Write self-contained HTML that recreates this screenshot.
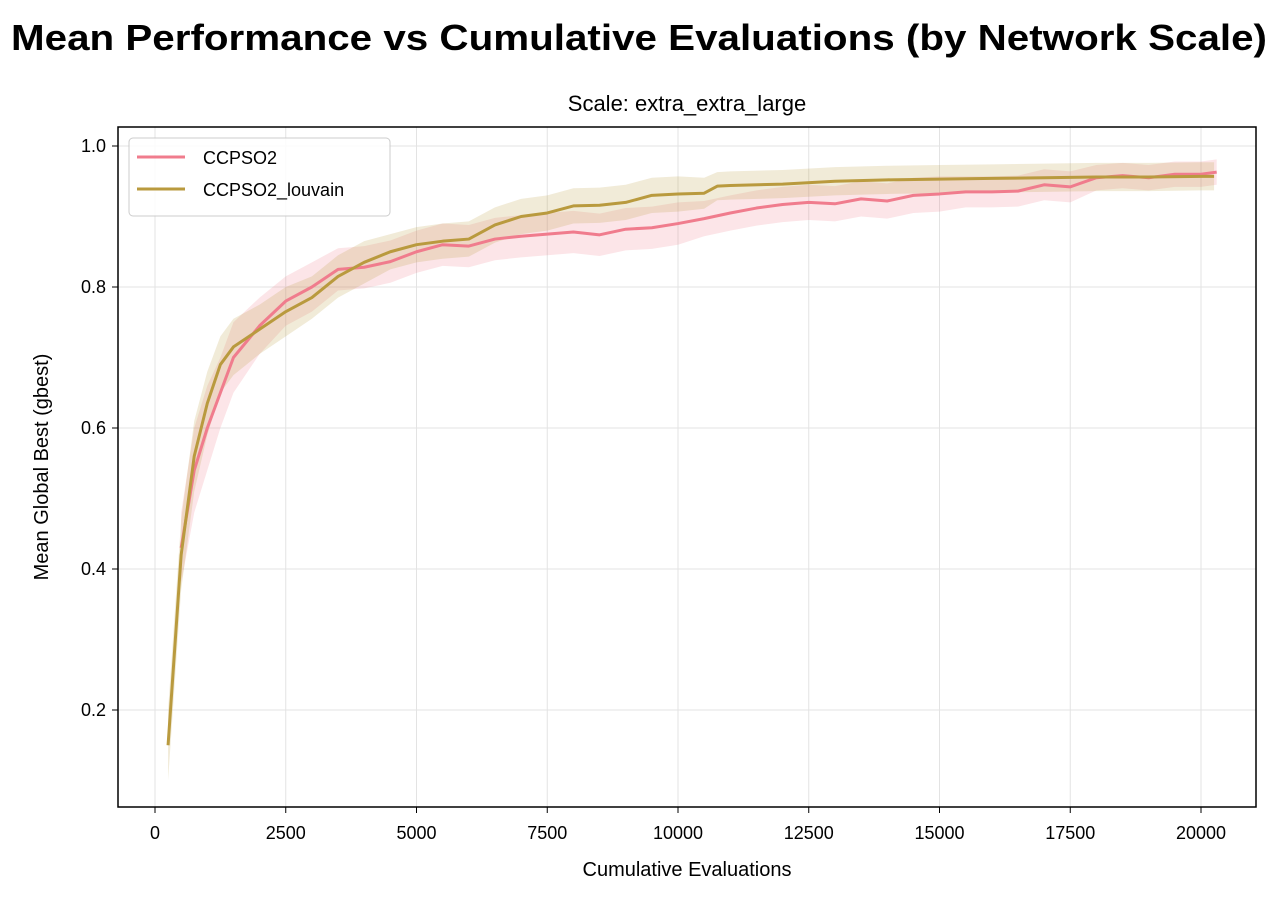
<!DOCTYPE html>
<html><head><meta charset="utf-8"><style>
body{margin:0;background:#fff;font-family:"Liberation Sans",Arial,sans-serif}
</style></head><body>
<svg id="c" width="1276" height="900" xmlns="http://www.w3.org/2000/svg">
<text x="639" y="50" text-anchor="middle" font-size="36" font-weight="bold" textLength="1256" lengthAdjust="spacingAndGlyphs">Mean Performance vs Cumulative Evaluations (by Network Scale)</text>
<text x="687" y="111" text-anchor="middle" font-size="22">Scale: extra_extra_large</text>
<g id="grid"></g><g id="bands"></g><g id="lines"></g><g id="ticks"></g>
<rect x="118" y="127" width="1138" height="680" fill="none" stroke="#000" stroke-width="1.5"/>
<text x="687" y="876" text-anchor="middle" font-size="20">Cumulative Evaluations</text>
<text transform="translate(48,467) rotate(-90)" text-anchor="middle" font-size="20">Mean Global Best (gbest)</text>
<g>
<rect x="129" y="138" width="261" height="78" rx="4" fill="#fff" fill-opacity="0.85" stroke="#ccc"/>
<line x1="137" y1="157" x2="185" y2="157" stroke="#f07c8d" stroke-width="3"/>
<text x="203" y="164" font-size="18">CCPSO2</text>
<line x1="137" y1="189" x2="185" y2="189" stroke="#b99a3e" stroke-width="3"/>
<text x="203" y="196" font-size="18">CCPSO2_louvain</text>
</g>
</svg>
<script>
const xTicks=[0,2500,5000,7500,10000,12500,15000,17500,20000];
const yTicks=[0.2,0.4,0.6,0.8,1.0];
const aX=[500,750,1000,1250,1500,2000,2500,3000,3500,4000,4500,5000,5500,6000,6500,7000,7500,8000,8500,9000,9500,10000,10500,11000,11500,12000,12500,13000,13500,14000,14500,15000,15500,16000,16500,17000,17500,18000,18500,19000,19500,20000,20300];
const aY=[0.43,0.54,0.6,0.65,0.7,0.745,0.78,0.8,0.825,0.828,0.836,0.85,0.86,0.858,0.868,0.872,0.875,0.878,0.874,0.882,0.884,0.89,0.897,0.905,0.912,0.917,0.92,0.918,0.925,0.922,0.93,0.932,0.935,0.935,0.936,0.945,0.942,0.955,0.958,0.955,0.96,0.96,0.963];
const aS=[0.05,0.06,0.06,0.05,0.05,0.04,0.035,0.035,0.03,0.03,0.03,0.03,0.03,0.03,0.03,0.03,0.03,0.03,0.03,0.03,0.03,0.03,0.025,0.025,0.025,0.025,0.025,0.025,0.025,0.025,0.025,0.025,0.022,0.022,0.022,0.022,0.022,0.018,0.018,0.018,0.018,0.018,0.018];
const bX=[250,500,750,1000,1250,1500,2000,2500,3000,3500,4000,4500,5000,5500,6000,6500,7000,7500,8000,8500,9000,9500,10000,10500,10750,11000,12000,13000,14000,15000,16000,17000,18000,19000,20000,20250];
const bY=[0.15,0.42,0.56,0.635,0.69,0.715,0.74,0.765,0.785,0.815,0.835,0.85,0.86,0.865,0.868,0.888,0.9,0.905,0.915,0.916,0.92,0.93,0.932,0.933,0.943,0.944,0.946,0.95,0.952,0.953,0.954,0.955,0.956,0.956,0.957,0.957];
const bS=[0.05,0.05,0.05,0.045,0.04,0.04,0.035,0.035,0.03,0.03,0.03,0.025,0.025,0.025,0.025,0.025,0.025,0.025,0.025,0.025,0.025,0.025,0.025,0.022,0.02,0.02,0.02,0.02,0.02,0.02,0.02,0.02,0.02,0.02,0.02,0.02];
const X=v=>155+v*(1201-155)/20000;
const Y=v=>287-(v-0.8)*705;
const NS="http://www.w3.org/2000/svg";
function mk(p,t,a){const e=document.createElementNS(NS,t);for(const k in a)e.setAttribute(k,a[k]);document.getElementById(p).appendChild(e);return e;}
xTicks.forEach(t=>{
 let g=mk('grid','line',{x1:X(t),x2:X(t),y1:127,y2:807,stroke:'#e3e3e3','stroke-width':1});
 
 
 let k=mk('ticks','line',{x1:X(t),x2:X(t),y1:807,y2:813,stroke:'#000'});
 
 
 let l=mk('ticks','text',{x:X(t),y:839,'text-anchor':'middle','font-size':18});
 l.textContent=t;
 
 
});
yTicks.forEach(t=>{
 let g=mk('grid','line',{x1:118,x2:1256,y1:Y(t),y2:Y(t),stroke:'#e3e3e3','stroke-width':1});
 
 
 let k=mk('ticks','line',{x1:112,x2:118,y1:Y(t),y2:Y(t),stroke:'#000'});
 
 
 let l=mk('ticks','text',{x:106,y:Y(t)+6,'text-anchor':'end','font-size':18});
 l.textContent=t.toFixed(1);
 
 
});
function series(xs,ys,ss,col,name){
 let up=xs.map((x,i)=>X(x)+','+Y(ys[i]+ss[i]));
 let dn=xs.map((x,i)=>X(x)+','+Y(ys[i]-ss[i])).reverse();
 let b=mk('bands','polygon',{points:up.concat(dn).join(' '),fill:col,'fill-opacity':0.2});
 
 
 let l=mk('lines','polyline',{points:xs.map((x,i)=>X(x)+','+Y(ys[i])).join(' '),fill:'none',stroke:col,'stroke-width':3,'stroke-linejoin':'round'});
 
 
}
series(aX,aY,aS,'#f07c8d','ccpso2');
series(bX,bY,bS,'#b99a3e','ccpso2-louvain');
</script>
</body></html>
